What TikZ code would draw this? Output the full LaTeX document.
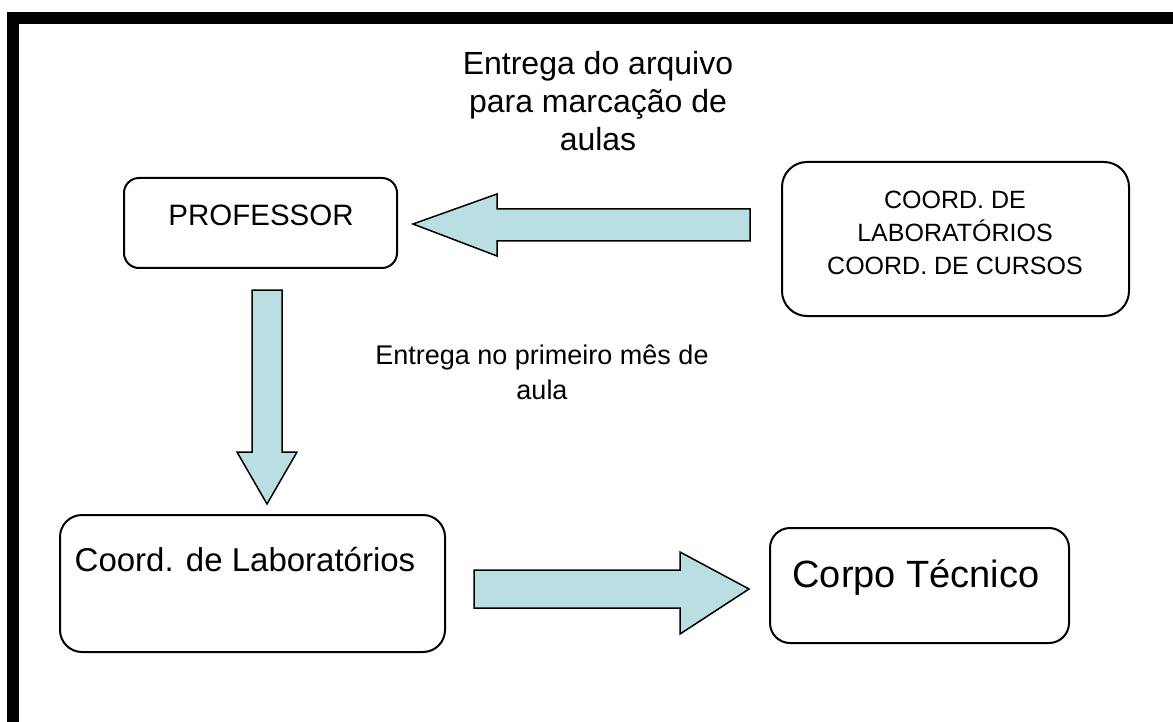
\documentclass[tikz,border=0pt]{standalone}
\usepackage{fontspec}
\setmainfont{Liberation Sans}
\definecolor{arrowfill}{RGB}{185,223,227}
\tikzset{
  box/.style={draw=black, line width=2pt, fill=white, inner sep=0pt},
  fatarrow/.style={draw=black, line width=1.5pt, fill=arrowfill, line join=miter},
  lbl/.style={align=center, inner sep=0pt},
}
\begin{document}
\begin{tikzpicture}[x=1pt,y=-1pt]
\useasboundingbox (0,0) rectangle (1173,722);
% frame
\fill[black] (7,12) rectangle (1173,24);
\fill[black] (7,12) rectangle (19,722);
% boxes
\node[box, rounded corners=15pt, minimum width=273pt, minimum height=90pt] (prof) at (260.5,223) {};
\node[box, rounded corners=25pt, minimum width=347pt, minimum height=154pt] (coord) at (955.5,239) {};
\node[box, rounded corners=22pt, minimum width=385pt, minimum height=137pt] (lab) at (252.5,583.5) {};
\node[box, rounded corners=20pt, minimum width=299pt, minimum height=115pt] (tec) at (919.5,585.5) {};
% texts
\node[inner sep=0pt, font=\fontsize{29.5}{34}\selectfont] (proftxt) at (261,215) {PROFESSOR};
\node[inner sep=0pt, align=center, font=\fontsize{25}{33}\selectfont] (coordtxt) at (955,233) {COORD. DE\\LABORATÓRIOS\\COORD. DE CURSOS};
\node[inner sep=0pt, font=\fontsize{33}{38}\selectfont] (labtxt) at (245,560) {Coord. de Laboratórios};
\node[inner sep=0pt, font=\fontsize{38}{42}\selectfont] (tectxt) at (916,577) {Corpo Técnico};
% labels
\node[lbl, font=\fontsize{32}{38}\selectfont] (l1) at (598,101) {Entrega do arquivo\\para marcação de\\aulas};
\node[lbl, font=\fontsize{27}{35}\selectfont] (l2) at (542,372) {Entrega no primeiro mês de\\aula};
% block arrows
\draw[fatarrow] (750,209) -- (497,209) -- (497,194) -- (413,224) -- (497,256) -- (497,241) -- (750,241) -- cycle;
\draw[fatarrow] (252,290) -- (282,290) -- (282,452) -- (297,452) -- (267,504) -- (237,452) -- (252,452) -- cycle;
\draw[fatarrow] (474,570) -- (680,570) -- (680,552) -- (749,589) -- (680,634) -- (680,608) -- (474,608) -- cycle;
\end{tikzpicture}
\end{document}
